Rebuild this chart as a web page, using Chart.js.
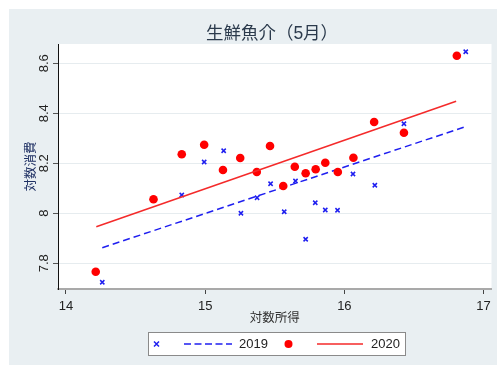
<!DOCTYPE html>
<html>
<head>
<meta charset="utf-8">
<script src="https://cdn.jsdelivr.net/npm/chart.js@4/dist/chart.umd.min.js"></script>
<style>
  html, body { margin: 0; padding: 0; background: #ffffff; }
  #wrap { width: 497px; height: 366px; }
</style>
</head>
<body>
<div id="wrap"><canvas id="c" width="497" height="366"></canvas></div>
<script>
// 対数所得 (x) と 対数消費 (y): 2019年
const income2019 = [14.261, 14.832, 14.993, 15.133, 15.257, 15.373, 15.470, 15.568, 15.649,
                    15.722, 15.791, 15.863, 15.951, 16.062, 16.219, 16.428, 16.872];
const spend2019  = [7.724, 8.073, 8.205, 8.250, 8.000, 8.062, 8.118, 8.006, 8.129,
                    7.896, 8.042, 8.013, 8.012, 8.157, 8.112, 8.358, 8.646];

// 2020年
const income2020 = [14.214, 14.629, 14.832, 14.993, 15.128, 15.252, 15.371, 15.466, 15.561,
                    15.644, 15.722, 15.794, 15.863, 15.953, 16.065, 16.214, 16.428, 16.808];
const spend2020  = [7.766, 8.056, 8.236, 8.274, 8.173, 8.221, 8.165, 8.269, 8.109,
                    8.186, 8.160, 8.176, 8.202, 8.165, 8.222, 8.365, 8.322, 8.630];

// 回帰直線の両端
const fitX2019 = [14.261, 16.868];
const fitY2019 = [7.862, 8.346];
const fitX2020 = [14.218, 16.803];
const fitY2020 = [7.946, 8.448];

// 目盛り
const xTicks = [14, 15, 16, 17];
const yTicks = [7.8, 8, 8.2, 8.4, 8.6];

const titleText = '生鮮魚介（5月）';
const xTitle = '対数所得';
const yTitle = '対数消費';
const seriesNames = ['2019', '2020'];

const FONT = '"Liberation Sans", "Noto Sans CJK JP", Arial, sans-serif';
const BLUE = '#1f1ff0';
const RED = '#ff0000';
const RED_LINE = '#f42a2a';

const pts = (xs, ys) => xs.map((x, i) => ({ x: x, y: ys[i] }));

// 背景・タイトル・縦軸目盛り・凡例
const decor = {
  id: 'decor',
  beforeDraw(chart) {
    const { ctx, chartArea: a } = chart;
    ctx.save();
    ctx.fillStyle = '#ffffff';
    ctx.fillRect(0, 0, chart.width, chart.height);
    ctx.fillStyle = '#e9eff2';
    ctx.fillRect(9, 9, chart.width - 9, 356);
    ctx.fillStyle = '#ffffff';
    ctx.fillRect(a.left, a.top, a.right - a.left, a.bottom - a.top);
    ctx.restore();
  },
  afterDraw(chart) {
    const { ctx } = chart;
    const ys = chart.scales.y;
    ctx.save();
    // タイトル
    ctx.fillStyle = '#2b3a4c';
    ctx.font = '17.5px ' + FONT;
    ctx.textAlign = 'center';
    ctx.textBaseline = 'middle';
    ctx.fillText(titleText, 272, 34);

    // 縦軸目盛りラベル (回転)
    ctx.fillStyle = '#222222';
    ctx.font = '13px ' + FONT;
    yTicks.forEach(v => {
      const py = ys.getPixelForValue(v);
      ctx.save();
      ctx.translate(44, py);
      ctx.rotate(-Math.PI / 2);
      ctx.textAlign = 'center';
      ctx.textBaseline = 'middle';
      ctx.fillText(String(v), 0, 0);
      ctx.restore();
    });

    // 凡例
    const L = 148, T = 332, W = 257, H = 23, cy = T + H / 2 + 0.5;
    ctx.fillStyle = '#ffffff';
    ctx.fillRect(L, T, W, H);
    ctx.strokeStyle = '#8a8a8a';
    ctx.lineWidth = 1;
    ctx.strokeRect(L + 0.5, T + 0.5, W, H);

    // 2019: × と破線
    ctx.strokeStyle = BLUE;
    ctx.lineWidth = 1.5;
    ctx.beginPath();
    ctx.moveTo(154, cy - 2.5); ctx.lineTo(159, cy + 2.5);
    ctx.moveTo(159, cy - 2.5); ctx.lineTo(154, cy + 2.5);
    ctx.stroke();
    ctx.setLineDash([7, 3.5]);
    ctx.beginPath();
    ctx.moveTo(184, cy); ctx.lineTo(232, cy);
    ctx.stroke();
    ctx.setLineDash([]);
    ctx.fillStyle = '#222222';
    ctx.font = '13px ' + FONT;
    ctx.textAlign = 'left';
    ctx.textBaseline = 'middle';
    ctx.fillText(seriesNames[0], 239, cy);

    // 2020: ● と実線
    ctx.fillStyle = RED;
    ctx.beginPath();
    ctx.arc(288.5, cy, 4, 0, Math.PI * 2);
    ctx.fill();
    ctx.strokeStyle = RED_LINE;
    ctx.lineWidth = 1.5;
    ctx.beginPath();
    ctx.moveTo(317, cy); ctx.lineTo(363, cy);
    ctx.stroke();
    ctx.fillStyle = '#222222';
    ctx.fillText(seriesNames[1], 371, cy);
    ctx.restore();
  }
};

new Chart(document.getElementById('c'), {
  type: 'scatter',
  data: {
    datasets: [
      {
        label: seriesNames[0],
        data: pts(income2019, spend2019),
        pointStyle: 'crossRot',
        pointRadius: 3,
        pointBorderWidth: 1.5,
        borderColor: BLUE,
        backgroundColor: BLUE,
        order: 4
      },
      {
        label: seriesNames[0] + ' fit',
        data: pts(fitX2019, fitY2019),
        showLine: true,
        pointRadius: 0,
        borderColor: BLUE,
        borderWidth: 1.5,
        borderDash: [7, 4],
        order: 3
      },
      {
        label: seriesNames[1],
        data: pts(income2020, spend2020),
        pointStyle: 'circle',
        pointRadius: 4.3,
        pointBorderWidth: 0,
        borderColor: RED,
        backgroundColor: RED,
        order: 2
      },
      {
        label: seriesNames[1] + ' fit',
        data: pts(fitX2020, fitY2020),
        showLine: true,
        pointRadius: 0,
        borderColor: RED_LINE,
        borderWidth: 1.5,
        order: 1
      }
    ]
  },
  options: {
    responsive: false,
    animation: false,
    devicePixelRatio: 1,
    layout: { padding: { left: 0, right: 3, top: 44, bottom: 33 } },
    plugins: {
      legend: { display: false },
      tooltip: { enabled: false },
      title: { display: false }
    },
    scales: {
      x: {
        type: 'linear',
        min: 13.943,
        max: 17.057,
        afterBuildTicks(scale) { scale.ticks = xTicks.map(v => ({ value: v })); },
        afterFit(scale) { scale.height = 44; },
        grid: { drawOnChartArea: false, tickLength: 5, tickColor: '#444444', tickWidth: 1 },
        border: { display: true, color: '#a9a9a9', width: 2 },
        ticks: { color: '#222222', font: { family: FONT, size: 13 }, padding: 5, maxRotation: 0 },
        title: {
          display: true, text: xTitle, color: '#333333',
          font: { family: FONT, size: 12.5 }, padding: { top: 0, bottom: 7 }
        }
      },
      y: {
        type: 'linear',
        min: 7.697,
        max: 8.677,
        afterBuildTicks(scale) { scale.ticks = yTicks.map(v => ({ value: v })); },
        afterFit(scale) { scale.width = 58; },
        grid: { color: '#e6ecef', lineWidth: 1, tickLength: 5, tickColor: '#555555', tickWidth: 1 },
        border: { display: true, color: '#111111', width: 1 },
        ticks: { display: false },
        title: {
          display: true, text: yTitle, color: '#1e2f63',
          font: { family: FONT, size: 12.5 }, padding: { top: 24, bottom: 0 }
        }
      }
    }
  },
  plugins: [decor]
});
</script>
</body>
</html>
